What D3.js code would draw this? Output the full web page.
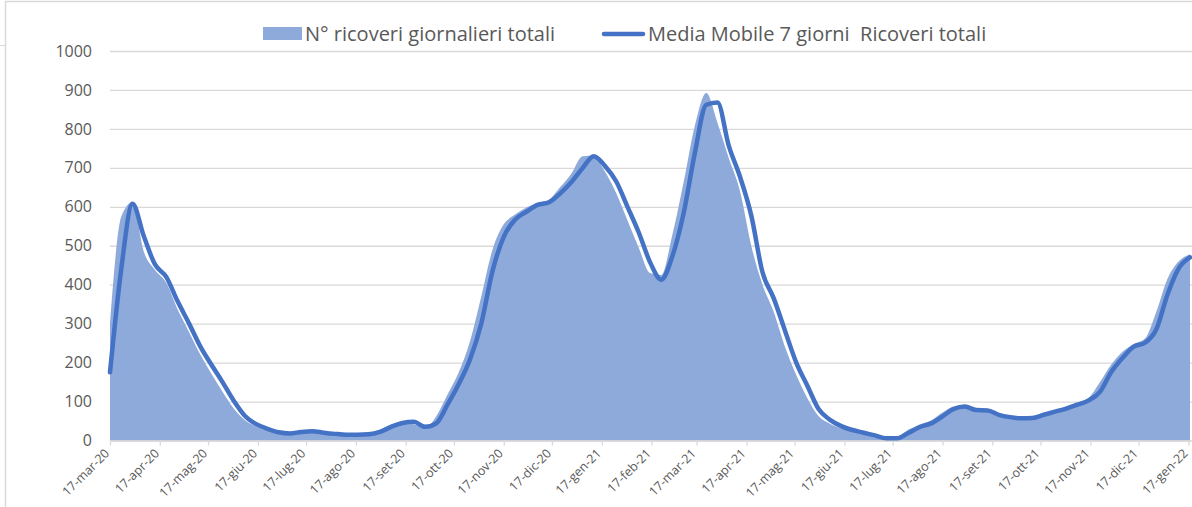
<!DOCTYPE html>
<html>
<head>
<meta charset="utf-8">
<title>Ricoveri giornalieri totali</title>
<script src="https://d3js.org/d3.v7.min.js"></script>
<style>
  body { margin: 0; background: #fff; }
  svg text { font-family: "Open Sans", sans-serif; fill: #595959; }
</style>
</head>
<body>
<div id="chart"></div>
<script>
// weekly dates (categories)
var dates = [
  "2020-03-17","2020-03-24","2020-03-31","2020-04-07","2020-04-14","2020-04-21","2020-04-28",
  "2020-05-05","2020-05-12","2020-05-19","2020-05-26","2020-06-02","2020-06-09","2020-06-16",
  "2020-06-23","2020-06-30","2020-07-07","2020-07-14","2020-07-21","2020-07-28","2020-08-04",
  "2020-08-11","2020-08-18","2020-08-25","2020-09-01","2020-09-08","2020-09-15","2020-09-22",
  "2020-09-29","2020-10-06","2020-10-13","2020-10-20","2020-10-27","2020-11-03","2020-11-10",
  "2020-11-17","2020-11-24","2020-12-01","2020-12-08","2020-12-15","2020-12-22","2020-12-29",
  "2021-01-05","2021-01-12","2021-01-19","2021-01-26","2021-02-02","2021-02-09","2021-02-16",
  "2021-02-23","2021-03-02","2021-03-09","2021-03-16","2021-03-23","2021-03-30","2021-04-06",
  "2021-04-13","2021-04-20","2021-04-27","2021-05-04","2021-05-11","2021-05-18","2021-05-25",
  "2021-06-01","2021-06-08","2021-06-15","2021-06-22","2021-06-29","2021-07-06","2021-07-13",
  "2021-07-20","2021-07-27","2021-08-03","2021-08-10","2021-08-17","2021-08-24","2021-08-31",
  "2021-09-07","2021-09-14","2021-09-21","2021-09-28","2021-10-05","2021-10-12","2021-10-19",
  "2021-10-26","2021-11-02","2021-11-09","2021-11-16","2021-11-23","2021-11-30","2021-12-07",
  "2021-12-14","2021-12-21","2021-12-28","2022-01-04","2022-01-11","2022-01-18"
];

// N° ricoveri giornalieri totali (area)
var ricoveri = [
  300, 575, 612, 485, 438, 405, 337,
  280, 222, 172, 125, 82, 52, 36,
  25, 19, 20, 24, 21, 18, 16,
  15, 15, 18, 28, 42, 48, 42,
  32, 62, 118, 175, 255, 370, 490,
  555, 580, 598, 610, 618, 650, 685,
  730, 732, 690, 635, 565, 495, 430,
  425, 530, 665, 810, 892, 815, 725,
  640, 500, 400, 330, 240, 168, 108,
  62, 43, 31, 23, 16, 9, 5,
  10, 28, 40, 52, 72, 86, 84,
  78, 72, 63, 58, 58, 62, 70,
  78, 87, 98, 110, 150, 195, 228,
  248, 262, 330, 415, 460,
  478
];

// Media mobile 7 giorni (line)
var media7 = [
  175, 440, 608, 525, 452, 420, 358,
  302, 243, 195, 150, 102, 63, 42,
  30, 21, 18, 22, 24, 20, 17,
  15, 15, 16, 22, 35, 45, 48,
  35, 44, 92, 145, 208, 300, 435,
  523, 567, 587, 605, 611, 634, 663,
  699, 730, 705, 665, 600, 534, 458,
  413, 474, 585, 740, 862, 868, 757,
  677, 578, 432, 365, 282, 200, 140,
  80, 53, 37, 27, 20, 13, 6,
  6, 20, 35, 44, 62, 81, 87,
  78, 77, 66, 60, 57, 58, 66,
  74, 82, 92, 103, 125, 176, 212,
  241, 251, 285, 375, 442,
  470
];

var monthNames = ["gen","feb","mar","apr","mag","giu","lug","ago","set","ott","nov","dic"];
var yTicks = [0, 100, 200, 300, 400, 500, 600, 700, 800, 900, 1000];
var legendLabels = ["N° ricoveri giornalieri totali", "Media Mobile 7 giorni  Ricoveri totali"];

var width = 1192, height = 507;
var margin = {top: 51, right: 2, bottom: 66, left: 110};
var areaColor = "#8eaadb", lineColor = "#4472c4", gridColor = "#d9d9d9";

var parseDate = d3.timeParse("%Y-%m-%d");
var data = dates.map(function(d, i) {
  return {date: parseDate(d), raw: ricoveri[i], ma: media7[i]};
});

var svg = d3.select("#chart").append("svg")
  .attr("width", width)
  .attr("height", height);

// outer frame of the spreadsheet chart box
svg.append("path")
  .attr("d", "M5.5,507V1.5H1192")
  .attr("fill", "none")
  .attr("stroke", gridColor)
  .attr("stroke-width", 1.5);
svg.append("line")
  .attr("x1", 0).attr("x2", 5).attr("y1", 45.5).attr("y2", 45.5)
  .attr("stroke", gridColor);

var x = d3.scaleTime()
  .domain([parseDate("2020-03-17"), parseDate("2022-01-18")])
  .range([margin.left, width - margin.right]);

var y = d3.scaleLinear()
  .domain([0, 1000])
  .range([height - margin.bottom - 0.5, margin.top]);

// gridlines + y labels
var yAxis = svg.append("g")
  .attr("transform", "translate(" + margin.left + ",0)")
  .call(d3.axisLeft(y).tickValues(yTicks).tickFormat(d3.format("d"))
    .tickSize(-(width - margin.left)).tickPadding(18));
yAxis.select(".domain").remove();
yAxis.selectAll(".tick line").attr("stroke", gridColor).attr("stroke-width", 1.3);
yAxis.selectAll(".tick text").attr("font-size", 16).style("font-family", "'Open Sans', sans-serif").attr("fill", "#595959");

// area
var area = d3.area()
  .x(function(d) { return x(d.date); })
  .y0(y(0))
  .y1(function(d) { return y(d.raw); })
  .curve(d3.curveMonotoneX);

svg.append("path")
  .datum(data)
  .attr("fill", areaColor)
  .attr("d", area);

// x axis
var tickDates = d3.timeMonth.range(parseDate("2020-03-01"), parseDate("2022-01-02"))
  .map(function(m) { return new Date(m.getFullYear(), m.getMonth(), 17); });

var xAxis = svg.append("g")
  .attr("transform", "translate(0," + y(0) + ")")
  .call(d3.axisBottom(x).tickValues(tickDates).tickSize(5).tickSizeOuter(0)
    .tickFormat(function(d) {
      return "17-" + monthNames[d.getMonth()] + "-" + String(d.getFullYear()).slice(2);
    }));
xAxis.select(".domain").attr("stroke", gridColor).attr("stroke-width", 1.3);
xAxis.selectAll(".tick line").attr("stroke", gridColor).attr("stroke-width", 1.3);
xAxis.selectAll(".tick text")
  .attr("font-size", 12.5)
  .style("font-family", "'Open Sans', sans-serif")
  .attr("fill", "#595959")
  .attr("text-anchor", "end")
  .attr("dy", "0.3em")
  .attr("y", 0)
  .attr("transform", "translate(-3,11) rotate(-45)");

// moving average line
var line = d3.line()
  .x(function(d) { return x(d.date); })
  .y(function(d) { return y(d.ma); })
  .curve(d3.curveMonotoneX);

svg.append("path")
  .datum(data)
  .attr("fill", "none")
  .attr("stroke", lineColor)
  .attr("stroke-width", 4.5)
  .attr("stroke-linejoin", "round")
  .attr("stroke-linecap", "round")
  .attr("d", line);

// legend
var legend = svg.append("g");
legend.append("rect")
  .attr("x", 263).attr("y", 27).attr("width", 39).attr("height", 13)
  .attr("fill", areaColor);
legend.append("text")
  .attr("x", 305).attr("y", 41)
  .attr("font-size", 20)
  .text(legendLabels[0]);
legend.append("line")
  .attr("x1", 604).attr("x2", 643).attr("y1", 34).attr("y2", 34)
  .attr("stroke", lineColor).attr("stroke-width", 4.5).attr("stroke-linecap", "round");
legend.append("text")
  .attr("x", 648).attr("y", 41)
  .attr("font-size", 20)
  .attr("xml:space", "preserve")
  .style("white-space", "pre")
  .text(legendLabels[1]);
</script>
</body>
</html>
